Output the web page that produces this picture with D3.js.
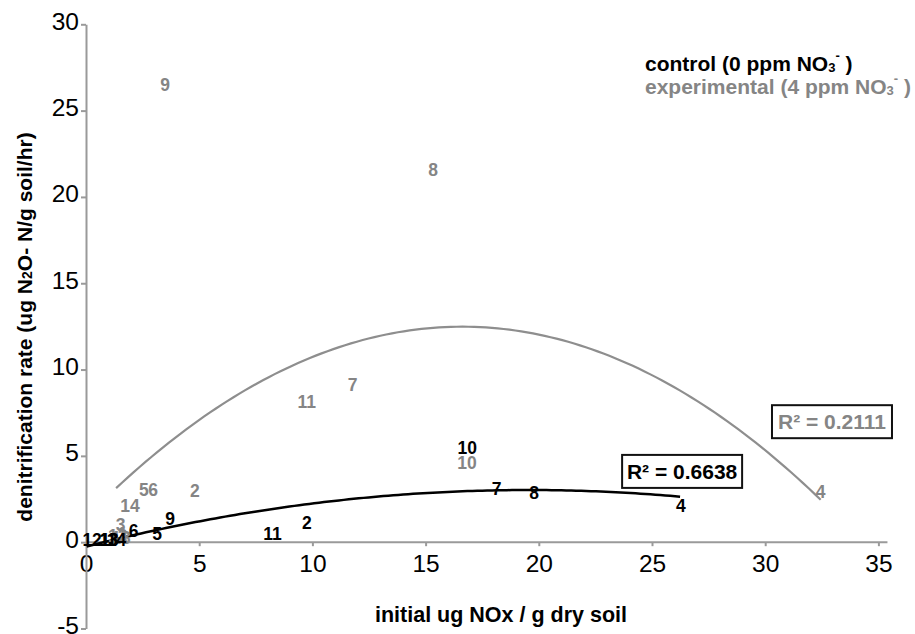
<!DOCTYPE html>
<html>
<head>
<meta charset="utf-8">
<script src="https://cdn.jsdelivr.net/npm/d3@7"></script>
<style>
  body { margin: 0; background: #fff; }
  svg { display: block; font-family: "Liberation Sans", Arial, sans-serif; }
</style>
</head>
<body>
<svg id="chart" width="915" height="634"></svg>
<script>
// sample numbers and values
const ctrlLabels = ["12", "1", "13", "3", "14", "6", "5", "9", "11", "2", "10", "7", "8", "4"];
const ctrlX = [0.27, 0.84, 1.02, 1.19, 1.35, 2.1, 3.14, 3.71, 8.24, 9.76, 16.84, 18.14, 19.79, 26.28];
const ctrlY = [0.13, 0.13, 0.13, 0.13, 0.13, 0.67, 0.52, 1.37, 0.5, 1.1, 5.5, 3.09, 2.87, 2.1];

const expLabels = ["9", "8", "7", "11", "10", "4", "5", "6", "2", "14", "3", "1", "12", "13"];
const expX = [3.49, 15.33, 11.78, 9.75, 16.83, 32.45, 2.56, 2.96, 4.81, 1.94, 1.53, 1.6, 1.4, 1.55];
const expY = [26.5, 21.56, 9.15, 8.14, 4.63, 2.93, 3.03, 3.03, 3.01, 2.1, 1.0, 0.5, 0.35, 0.25];

// polynomial (order 2) trendlines: a, b, c  and x range
const ctrlTrend = [-0.0086, 0.336, -0.26];
const ctrlTrendRange = [0.03, 26.24];
const expTrend = [-0.0400, 1.3297, 1.432];
const expTrendRange = [1.33, 32.45];
const ctrlR2 = "R² = 0.6638";
const expR2 = "R² = 0.2111";

const xTicks = [0, 5, 10, 15, 20, 25, 30, 35];
const yTicks = [-5, 0, 5, 10, 15, 20, 25, 30];

const BLACK = "#000", GRAY = "#858585", AXIS = "#9a9a9a";
const FONT = "Liberation Sans, Arial, sans-serif";

const svg = d3.select("#chart");

const x = d3.scaleLinear().domain([0, 35]).range([86, 878.4]);
const y = d3.scaleLinear().domain([-5, 30]).range([628.5, 24.3]);

// x axis
const xAxis = svg.append("g")
    .attr("transform", `translate(0,${y(0)})`)
    .call(d3.axisBottom(x).tickValues(xTicks).tickFormat(d => String(d))
      .tickSize(4).tickSizeOuter(0).tickPadding(8));
xAxis.select(".domain").remove();
xAxis.append("line")
    .attr("x1", x(0)).attr("x2", x(35.4))
    .attr("stroke", AXIS).attr("stroke-width", 2);
xAxis.selectAll(".tick line").attr("stroke", AXIS).attr("stroke-width", 2);
xAxis.selectAll(".tick text")
    .attr("fill", BLACK).attr("font-size", 24.5).attr("font-family", FONT);

// y axis
const yAxis = svg.append("g")
    .attr("transform", `translate(${x(0)},0)`)
    .call(d3.axisLeft(y).tickValues(yTicks).tickFormat(d => String(d))
      .tickSize(5).tickSizeOuter(0).tickPadding(2));
yAxis.select(".domain").attr("stroke", AXIS).attr("stroke-width", 2);
yAxis.selectAll(".tick line").attr("stroke", AXIS).attr("stroke-width", 2);
yAxis.selectAll(".tick text")
    .attr("fill", BLACK).attr("font-size", 24.5).attr("dy", "0.2em").attr("font-family", FONT);

// trendlines
function trendPoints(c, r) {
  const n = 120, pts = [];
  for (let i = 0; i <= n; i++) {
    const xv = r[0] + (r[1] - r[0]) * i / n;
    pts.push([xv, c[0] * xv * xv + c[1] * xv + c[2]]);
  }
  return pts;
}
const line = d3.line().x(d => x(d[0])).y(d => y(d[1]));

svg.append("path")
    .attr("d", line(trendPoints(expTrend, expTrendRange)))
    .attr("fill", "none").attr("stroke", "#8e8e8e").attr("stroke-width", 2.2);
svg.append("path")
    .attr("d", line(trendPoints(ctrlTrend, ctrlTrendRange)))
    .attr("fill", "none").attr("stroke", BLACK).attr("stroke-width", 2.5);

// data labels (the markers are the sample numbers)
function drawLabels(labels, xs, ys, color) {
  svg.append("g").selectAll("text")
    .data(labels)
    .join("text")
      .attr("x", (d, i) => x(xs[i]))
      .attr("y", (d, i) => y(ys[i]))
      .attr("dy", "0.36em")
      .attr("text-anchor", "middle")
      .attr("font-size", 17.5)
      .attr("font-weight", "bold")
      .attr("fill", color)
      .text(d => d);
}
drawLabels(expLabels, expX, expY, GRAY);
drawLabels(ctrlLabels, ctrlX, ctrlY, BLACK);

// R² boxes
function r2Box(txt, cx, cy, color) {
  const g = svg.append("g");
  g.append("rect")
    .attr("x", x(cx) - 60).attr("y", y(cy) - 16.5)
    .attr("width", 120).attr("height", 33)
    .attr("fill", "#fff").attr("stroke", "#111").attr("stroke-width", 2);
  g.append("text")
    .attr("x", x(cx)).attr("y", y(cy)).attr("dy", "0.36em")
    .attr("text-anchor", "middle")
    .attr("font-size", 21).attr("font-weight", "bold")
    .attr("fill", color)
    .text(txt);
}
r2Box(ctrlR2, 26.33, 4.1, BLACK);
r2Box(expR2, 32.95, 6.98, GRAY);

// legend
function legendItem(label, ypos, color) {
  const t = svg.append("text")
    .attr("x", 645).attr("y", ypos)
    .attr("font-size", 21).attr("font-weight", "bold")
    .attr("fill", color);
  t.append("tspan").text(label + " NO");
  t.append("tspan").attr("font-size", 13).attr("dy", 1).text("3");
  t.append("tspan").attr("font-size", 13).attr("dy", -12).text("-");
  t.append("tspan").attr("dy", 11).text(" )");
}
legendItem("control (0 ppm", 71, BLACK);
legendItem("experimental (4 ppm", 94, GRAY);

// axis titles
svg.append("text")
    .attr("x", 501).attr("y", 622)
    .attr("text-anchor", "middle")
    .attr("font-size", 21.5).attr("font-weight", "bold")
    .text("initial ug NOx / g dry soil");

const yt = svg.append("text")
    .attr("transform", "translate(32,327) rotate(-90)")
    .attr("text-anchor", "middle")
    .attr("font-size", 21).attr("font-weight", "bold");
yt.append("tspan").text("denitrification rate (ug N");
yt.append("tspan").attr("font-size", 14).text("2");
yt.append("tspan").text("O- N/g soil/hr)");
</script>
</body>
</html>
